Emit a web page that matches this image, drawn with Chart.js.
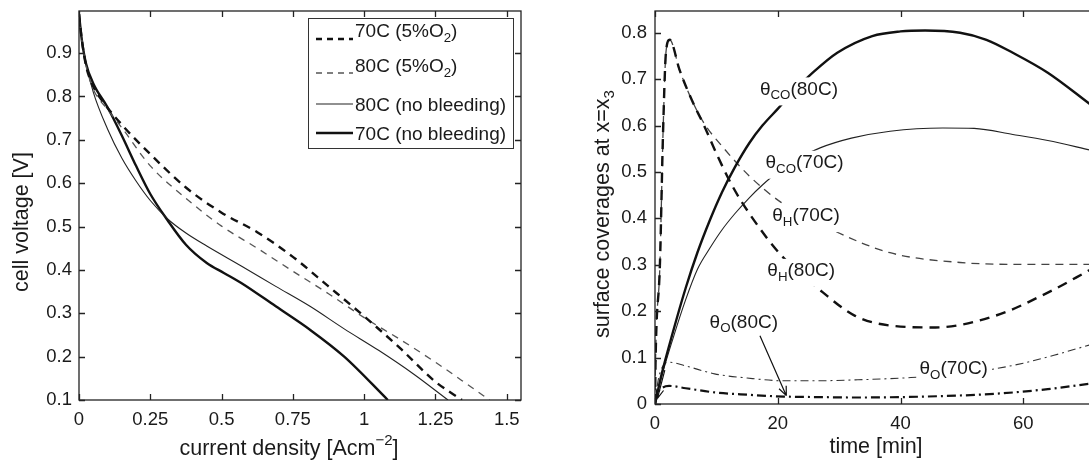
<!DOCTYPE html>
<html>
<head>
<meta charset="utf-8">
<script src="https://cdn.jsdelivr.net/npm/chart.js@4"></script>
<style>
  html, body { margin: 0; padding: 0; background: #fff; overflow: hidden; width: 1089px; height: 461px; }
  #polCurve { position: absolute; left: 0; top: 0; }
  #coverage { position: absolute; left: 545px; top: 0; }
</style>
</head>
<body>
<canvas id="polCurve" width="545" height="461"></canvas>
<canvas id="coverage" width="650" height="461"></canvas>
<script>
// ---- left panel: polarization curves ----
const polTicksX = [0, 0.25, 0.5, 0.75, 1, 1.25, 1.5];
const polTickLabelsX = ["0", "0.25", "0.5", "0.75", "1", "1.25", "1.5"];
const polTicksY = [0.1, 0.2, 0.3, 0.4, 0.5, 0.6, 0.7, 0.8, 0.9];
const polTickLabelsY = ["0.1", "0.2", "0.3", "0.4", "0.5", "0.6", "0.7", "0.8", "0.9"];

// 70C (5%O2)
const cd70o2 = [0, 0.01, 0.025, 0.05, 0.085, 0.15, 0.25, 0.375, 0.5, 0.625, 0.75, 0.875, 1.0, 1.125, 1.25, 1.343];
const v70o2 = [0.99, 0.93, 0.87, 0.823, 0.787, 0.735, 0.667, 0.59, 0.532, 0.487, 0.43, 0.362, 0.293, 0.22, 0.142, 0.1];
// 80C (5%O2)
const cd80o2 = [0, 0.01, 0.025, 0.05, 0.1, 0.15, 0.25, 0.375, 0.5, 0.625, 0.75, 0.875, 1.0, 1.125, 1.25, 1.375, 1.44];
const v80o2 = [0.99, 0.93, 0.87, 0.817, 0.77, 0.728, 0.64, 0.565, 0.501, 0.45, 0.397, 0.345, 0.29, 0.24, 0.187, 0.13, 0.1];
// 80C (no bleeding)
const cd80nb = [0, 0.01, 0.025, 0.05, 0.1, 0.15, 0.2, 0.25, 0.31, 0.375, 0.448, 0.569, 0.69, 0.81, 0.93, 1.052, 1.173, 1.294];
const v80nb = [0.99, 0.93, 0.875, 0.81, 0.725, 0.658, 0.605, 0.56, 0.518, 0.485, 0.455, 0.409, 0.362, 0.316, 0.264, 0.214, 0.16, 0.1];
// 70C (no bleeding)
const cd70nb = [0, 0.01, 0.025, 0.05, 0.1, 0.15, 0.2, 0.25, 0.31, 0.375, 0.448, 0.508, 0.569, 0.69, 0.81, 0.93, 1.083];
const v70nb = [0.99, 0.93, 0.875, 0.83, 0.775, 0.71, 0.64, 0.575, 0.515, 0.458, 0.416, 0.393, 0.37, 0.316, 0.262, 0.2, 0.1];

// ---- right panel: surface coverages ----
const covTicksX = [0, 20, 40, 60, 80];
const covTickLabelsX = ["0", "20", "40", "60", "80"];
const covTicksY = [0, 0.1, 0.2, 0.3, 0.4, 0.5, 0.6, 0.7, 0.8];
const covTickLabelsY = ["0", "0.1", "0.2", "0.3", "0.4", "0.5", "0.6", "0.7", "0.8"];

const tCO80 = [0, 1, 2.9, 5, 6.9, 8.9, 10.9, 13, 15.4, 17.5, 20, 22.8, 25.7, 29.7, 35.4, 40, 44, 49.7, 54, 58.3, 64, 71];
const thCO80 = [0, 0.06, 0.154, 0.25, 0.326, 0.395, 0.456, 0.51, 0.563, 0.6, 0.636, 0.677, 0.714, 0.757, 0.793, 0.803, 0.805, 0.8, 0.785, 0.757, 0.714, 0.645];
const tCO70 = [0, 1, 2.9, 5, 6.9, 8.9, 10.9, 13, 15.4, 17.5, 20, 23, 26.9, 32, 38.3, 46.9, 52, 58.3, 64, 71];
const thCO70 = [0, 0.055, 0.14, 0.225, 0.29, 0.335, 0.375, 0.41, 0.445, 0.472, 0.5, 0.527, 0.552, 0.573, 0.588, 0.595, 0.594, 0.581, 0.568, 0.547];
const tH80 = [0, 0.1, 0.8, 1.3, 1.8, 2.4, 4, 6, 8, 10, 12.6, 15.4, 20.6, 27.4, 32.6, 38.3, 45.7, 55.4, 64, 71];
const thH80 = [0, 0.1, 0.3, 0.58, 0.76, 0.785, 0.72, 0.655, 0.6, 0.54, 0.47, 0.41, 0.32, 0.24, 0.19, 0.169, 0.165, 0.19, 0.24, 0.29];
const tH70 = [0, 0.1, 0.8, 1.3, 1.8, 2.4, 4, 6, 8, 10.9, 15.4, 20.6, 28.6, 38.3, 49.7, 59.4, 71];
const thH70 = [0, 0.1, 0.3, 0.58, 0.76, 0.785, 0.72, 0.655, 0.605, 0.556, 0.491, 0.434, 0.377, 0.326, 0.305, 0.301, 0.301];
const tO70 = [0, 0.5, 1.2, 2.3, 5, 9.7, 15, 21, 26, 32.6, 41.7, 50, 55, 60, 65, 71];
const thO70 = [0, 0.05, 0.08, 0.09, 0.082, 0.065, 0.056, 0.05, 0.05, 0.052, 0.057, 0.066, 0.075, 0.088, 0.105, 0.128];
const tO80 = [0, 0.5, 1.2, 2.3, 5, 9.7, 15, 21, 26, 32.6, 44, 55.4, 64, 71];
const thO80 = [0, 0.025, 0.035, 0.039, 0.034, 0.025, 0.02, 0.016, 0.015, 0.014, 0.016, 0.022, 0.032, 0.044];

const FONT = '"Liberation Sans", Arial, Helvetica, sans-serif';
const INK = "#1a1a1a";
const TITLE_SIZE = 21.5;
Chart.defaults.font.family = FONT;
Chart.defaults.color = INK;

const pts = (xs, ys) => xs.map((x, i) => ({ x: x, y: ys[i] }));

function line(data, width, dash, color) {
    return {
        data: data,
        borderColor: color || "#111",
        borderWidth: width,
        borderDash: dash,
        pointRadius: 0,
        fill: false,
        cubicInterpolationMode: "monotone",
    };
}

// text with sub/superscripts: parts = [[text, "sub"|"sup"|null], ...]
function drawRich(ctx, parts, x, y, size, align) {
    const fontOf = (k) => (k ? size * 0.7 : size) + "px " + FONT;
    const widths = parts.map(([t, k]) => {
        ctx.font = fontOf(k);
        return ctx.measureText(t).width;
    });
    const total = widths.reduce((a, b) => a + b, 0);
    let cx = align === "center" ? x - total / 2 : x;
    ctx.textAlign = "left";
    ctx.textBaseline = "middle";
    parts.forEach(([t, k], i) => {
        ctx.font = fontOf(k);
        const dy = k === "sub" ? size * 0.33 : k === "sup" ? -size * 0.38 : 0;
        ctx.fillText(t, cx, y + dy);
        cx += widths[i];
    });
}

function arrow(ctx, x1, y1, x2, y2) {
    const ang = Math.atan2(y2 - y1, x2 - x1);
    ctx.beginPath();
    ctx.moveTo(x1, y1);
    ctx.lineTo(x2, y2);
    [0.4, -0.4].forEach((d) => {
        ctx.moveTo(x2, y2);
        ctx.lineTo(x2 - 10 * Math.cos(ang + d), y2 - 10 * Math.sin(ang + d));
    });
    ctx.stroke();
}

// box, inward ticks, titles and any extra drawing
function decor(cfg) {
    return {
        id: "decor",
        afterDatasetsDraw(chart) {
            const { ctx, chartArea: a, scales } = chart;
            const sx = scales.x, sy = scales.y;
            ctx.save();
            ctx.strokeStyle = "#222";
            ctx.lineWidth = 1.3;
            ctx.setLineDash([]);
            ctx.strokeRect(a.left, a.top, a.right - a.left, a.bottom - a.top);
            ctx.beginPath();
            sx.ticks.forEach((t) => {
                const px = Math.round(sx.getPixelForValue(t.value)) + 0.5;
                ctx.moveTo(px, a.bottom); ctx.lineTo(px, a.bottom - 6);
                ctx.moveTo(px, a.top); ctx.lineTo(px, a.top + 6);
            });
            sy.ticks.forEach((t) => {
                const py = Math.round(sy.getPixelForValue(t.value)) + 0.5;
                ctx.moveTo(a.left, py); ctx.lineTo(a.left + 6, py);
                ctx.moveTo(a.right, py); ctx.lineTo(a.right - 6, py);
            });
            ctx.stroke();

            ctx.fillStyle = INK;
            drawRich(ctx, cfg.xTitle, cfg.xTitleAt[0], cfg.xTitleAt[1], TITLE_SIZE, "center");
            ctx.save();
            ctx.translate(cfg.yTitleAt[0], cfg.yTitleAt[1]);
            ctx.rotate(-Math.PI / 2);
            drawRich(ctx, cfg.yTitle, 0, 0, TITLE_SIZE, "center");
            ctx.restore();
            if (cfg.extra) cfg.extra(chart, ctx);
            ctx.restore();
        },
    };
}

function axis(min, max, ticks, labels, pad, fitSize, horizontal) {
    return {
        type: "linear",
        min: min,
        max: max,
        grid: { display: false, drawTicks: false },
        border: { display: false },
        ticks: {
            font: { size: 18.5 },
            color: INK,
            padding: pad,
            autoSkip: false,
            maxRotation: 0,
            callback: (v, i) => labels[i],
        },
        afterBuildTicks: (s) => { s.ticks = ticks.map((v) => ({ value: v })); },
        afterFit: (s) => {
            // no extra room for label overhang, the layout padding decides
            s.paddingTop = s.paddingBottom = s.paddingLeft = s.paddingRight = 0;
            if (horizontal) s.height = fitSize;
            else s.width = fitSize;
        },
    };
}

// legend entries of the left panel
const polLegend = [
    { name: [["70C (5%O", null], ["2", "sub"], [")", null]], w: 2.4, dash: [6, 5], color: "#111", ty: 32, ly: 39 },
    { name: [["80C (5%O", null], ["2", "sub"], [")", null]], w: 1.3, dash: [6, 5], color: "#555", ty: 67, ly: 73 },
    { name: [["80C (no bleeding)", null]], w: 1.1, dash: [], color: "#222", ty: 106, ly: 104 },
    { name: [["70C (no bleeding)", null]], w: 2.4, dash: [], color: "#111", ty: 135, ly: 133 },
];

new Chart(document.getElementById("polCurve").getContext("2d"), {
    type: "line",
    data: {
        datasets: [
            line(pts(cd70o2, v70o2), 2.4, [8, 6]),
            line(pts(cd80o2, v80o2), 1.3, [7, 6], "#555"),
            line(pts(cd80nb, v80nb), 1.1, [], "#222"),
            line(pts(cd70nb, v70nb), 2.4, []),
        ],
    },
    options: {
        responsive: false,
        animation: false,
        layout: { padding: { left: 0, right: 24, top: 11, bottom: 0 } },
        plugins: { legend: { display: false }, tooltip: { enabled: false } },
        scales: {
            x: axis(0, 1.55, polTicksX, polTickLabelsX, 9, 61, true),
            y: axis(0.1, 0.997, polTicksY, polTickLabelsY, 7, 79, false),
        },
    },
    plugins: [
        decor({
            xTitle: [["current density [Acm", null], ["\u22122", "sup"], ["]", null]],
            xTitleAt: [289, 449],
            yTitle: [["cell voltage [V]", null]],
            yTitleAt: [22, 222],
            extra: (chart, ctx) => {
                ctx.fillStyle = "#fff";
                ctx.fillRect(308, 18, 205, 130);
                ctx.strokeStyle = "#333";
                ctx.lineWidth = 1;
                ctx.strokeRect(308.5, 18.5, 205, 130);
                polLegend.forEach((e) => {
                    ctx.strokeStyle = e.color;
                    ctx.lineWidth = e.w;
                    ctx.setLineDash(e.dash);
                    ctx.beginPath();
                    ctx.moveTo(316, e.ly);
                    ctx.lineTo(353, e.ly);
                    ctx.stroke();
                    ctx.setLineDash([]);
                    ctx.fillStyle = INK;
                    drawRich(ctx, e.name, 355, e.ty, 19, "left");
                });
            },
        }),
    ],
});

// curve labels of the right panel, placed in data units (time, coverage)
const covLabels = [
    { sub: "CO", tail: "(80C)", t: 17.1, v: 0.678 },
    { sub: "CO", tail: "(70C)", t: 18.0, v: 0.52 },
    { sub: "H", tail: "(70C)", t: 19.1, v: 0.405 },
    { sub: "H", tail: "(80C)", t: 18.3, v: 0.287 },
    { sub: "O", tail: "(80C)", t: 8.9, v: 0.176 },
    { sub: "O", tail: "(70C)", t: 43.1, v: 0.075 },
];

new Chart(document.getElementById("coverage").getContext("2d"), {
    type: "line",
    data: {
        datasets: [
            line(pts(tCO80, thCO80), 2.4, []),
            line(pts(tCO70, thCO70), 1.1, [], "#222"),
            line(pts(tH80, thH80), 2.4, [10, 7]),
            line(pts(tH70, thH70), 1.3, [8, 6], "#444"),
            line(pts(tO70, thO70), 1.1, [8, 4, 2, 4], "#333"),
            line(pts(tO80, thO80), 2.2, [9, 4, 2, 4]),
        ],
    },
    options: {
        responsive: false,
        animation: false,
        layout: { padding: { left: 0, right: 49, top: 11, bottom: 0 } },
        plugins: { legend: { display: false }, tooltip: { enabled: false } },
        scales: {
            x: axis(0, 80, covTicksX, covTickLabelsX, 9, 57, true),
            y: axis(0, 0.847, covTicksY, covTickLabelsY, 8, 110, false),
        },
    },
    plugins: [
        decor({
            xTitle: [["time [min]", null]],
            xTitleAt: [331, 447],
            yTitle: [["surface coverages at x=x", null], ["3", "sub"]],
            yTitleAt: [58, 214],
            extra: (chart, ctx) => {
                const sx = chart.scales.x, sy = chart.scales.y;
                covLabels.forEach((l) => {
                    const px = sx.getPixelForValue(l.t), py = sy.getPixelForValue(l.v);
                    ctx.font = "19px " + FONT;
                    const w = ctx.measureText("\u03b8" + l.sub + l.tail).width;
                    ctx.fillStyle = "#fff";
                    ctx.fillRect(px - 3, py - 12, w + 2, 28);
                    ctx.fillStyle = INK;
                    drawRich(ctx, [["\u03b8", null], [l.sub, "sub"], [l.tail, null]], px, py, 19, "left");
                });
                ctx.strokeStyle = "#111";
                ctx.lineWidth = 1.2;
                arrow(ctx, sx.getPixelForValue(17.1), sy.getPixelForValue(0.147), sx.getPixelForValue(21.4), sy.getPixelForValue(0.018));
                arrow(ctx, sx.getPixelForValue(1.6), sy.getPixelForValue(0.073), sx.getPixelForValue(0.4), sy.getPixelForValue(0.012));
            },
        }),
    ],
});
</script>
</body>
</html>
